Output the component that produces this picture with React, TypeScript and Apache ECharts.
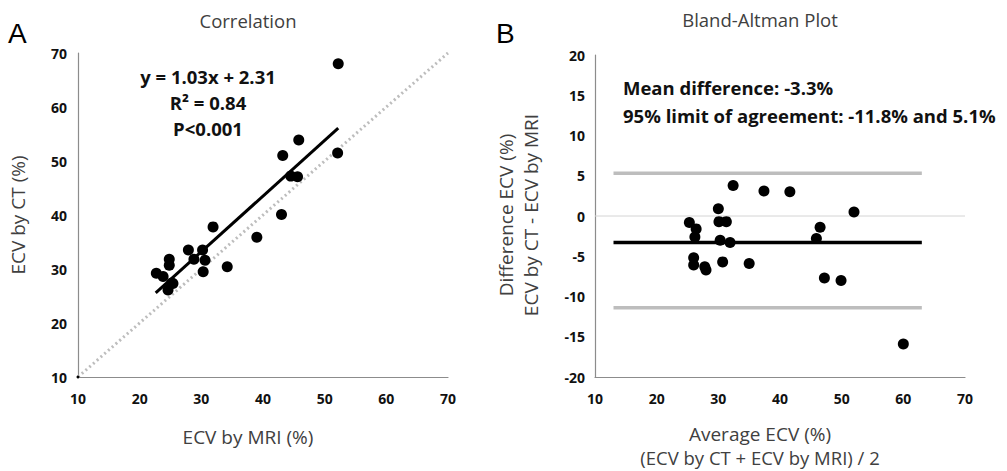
import React, { useEffect, useRef } from "react";
import * as echarts from "echarts";

// Correlation plot data (ECV by MRI, ECV by CT)
const corrMRI = [52.2, 52.1, 45.8, 43.2, 44.5, 45.6, 43.0, 39.0, 34.2, 31.9, 27.9, 30.2, 28.8, 30.6, 30.3, 24.8, 24.8, 22.7, 23.8, 25.2, 24.6, 25.4];
const corrCT = [68.0, 51.5, 53.9, 51.0, 47.2, 47.1, 40.1, 35.9, 30.4, 37.8, 33.5, 33.5, 31.8, 31.6, 29.5, 31.8, 30.7, 29.2, 28.6, 27.4, 26.1, 27.3];
const regSlope = 1.03;
const regIntercept = 2.31;
const regXRange = [22.6, 52.2];
const identityRange = [10, 70];

// Bland-Altman data (average, difference)
const baAvg = [32.4, 37.4, 41.6, 30.0, 52.0, 25.3, 26.4, 30.1, 31.3, 46.5, 26.2, 30.3, 31.9, 45.9, 26.0, 26.0, 27.8, 28.0, 30.7, 35.0, 47.2, 49.9, 60.0];
const baDiff = [3.8, 3.1, 3.0, 0.9, 0.5, -0.8, -1.6, -0.7, -0.7, -1.4, -2.6, -3.0, -3.3, -2.8, -5.2, -6.1, -6.3, -6.7, -5.7, -5.9, -7.7, -8.0, -15.9];
const meanDiff = -3.3;
const limits = [5.3, -11.4];
const refLineXRange = [13, 63];
const zeroLineXRange = [10, 70];

const corrXTicks = [10, 70, 10];
const corrYTicks = [10, 70, 10];
const baXTicks = [10, 70, 10];
const baYTicks = [-20, 20, 5];

const FONT = "'Open Sans', 'Noto Sans', sans-serif";

function axis(gridIndex: number, ticks: number[], margin: number) {
  return {
    type: "value",
    gridIndex,
    min: ticks[0],
    max: ticks[1],
    interval: ticks[2],
    axisLine: { show: true, onZero: false, lineStyle: { color: "#8c8c8c", width: 1.2 } },
    axisTick: { show: false },
    splitLine: { show: false },
    axisLabel: {
      color: "#111",
      fontWeight: "bold",
      fontSize: 14,
      fontFamily: FONT,
      margin,
    },
  };
}

const titleStyle = { fontSize: 18.5, fontFamily: FONT, fill: "#404040", align: "center", verticalAlign: "middle" };
const nameStyle = { fontSize: 19, fontFamily: FONT, fill: "#404040", align: "center", verticalAlign: "middle" };
const noteStyle = { fontSize: 18.5, fontWeight: "bold", fontFamily: FONT, fill: "#111", verticalAlign: "middle" };

export default function App() {
  const ref = useRef<HTMLDivElement>(null);
  useEffect(() => {
    const chart = echarts.init(ref.current!, null, { renderer: "svg" });
    const corrPts = corrMRI.map((x, i) => [x, corrCT[i]]);
    const baPts = baAvg.map((x, i) => [x, baDiff[i]]);
    const regLine = regXRange.map((x) => [x, regSlope * x + regIntercept]);
    const idLine = identityRange.map((v) => [v, v]);
    const option = {
      animation: false,
      backgroundColor: "#fff",
      grid: [
        { left: 78, top: 53, width: 370, height: 324 },
        { left: 595, top: 55, width: 370, height: 322 },
      ],
      xAxis: [axis(0, corrXTicks, 14), axis(1, baXTicks, 14)],
      yAxis: [axis(0, corrYTicks, 11), axis(1, baYTicks, 10)],
      series: [
        {
          type: "line",
          xAxisIndex: 0,
          yAxisIndex: 0,
          data: idLine,
          showSymbol: false,
          lineStyle: { color: "#bdbdbd", width: 3, type: [2, 3] },
          z: 1,
        },
        {
          type: "scatter",
          xAxisIndex: 0,
          yAxisIndex: 0,
          data: [idLine[0]],
          symbolSize: 3,
          itemStyle: { color: "#000", opacity: 1 },
          z: 2,
        },
        {
          type: "line",
          xAxisIndex: 0,
          yAxisIndex: 0,
          data: regLine,
          showSymbol: false,
          lineStyle: { color: "#000", width: 3 },
          z: 3,
        },
        {
          type: "scatter",
          xAxisIndex: 0,
          yAxisIndex: 0,
          data: corrPts,
          symbolSize: 11,
          itemStyle: { color: "#000", opacity: 1 },
          z: 4,
        },
        {
          type: "line",
          xAxisIndex: 1,
          yAxisIndex: 1,
          data: zeroLineXRange.map((x) => [x, 0]),
          showSymbol: false,
          lineStyle: { color: "#d4d4d4", width: 1 },
          z: 1,
        },
        ...limits.map((l) => ({
          type: "line",
          xAxisIndex: 1,
          yAxisIndex: 1,
          data: refLineXRange.map((x) => [x, l]),
          showSymbol: false,
          lineStyle: { color: "#bdbdbd", width: 3.5 },
          z: 2,
        })),
        {
          type: "line",
          xAxisIndex: 1,
          yAxisIndex: 1,
          data: refLineXRange.map((x) => [x, meanDiff]),
          showSymbol: false,
          lineStyle: { color: "#000", width: 3.5 },
          z: 3,
        },
        {
          type: "scatter",
          xAxisIndex: 1,
          yAxisIndex: 1,
          data: baPts,
          symbolSize: 11,
          itemStyle: { color: "#000", opacity: 1 },
          z: 4,
        },
      ],
      graphic: [
        { type: "text", left: 8, top: 19, style: { text: "A", fontSize: 28, fontFamily: "'Liberation Sans', Arial, sans-serif", fill: "#000" } },
        { type: "text", left: 496, top: 19, style: { text: "B", fontSize: 28, fontFamily: "'Liberation Sans', Arial, sans-serif", fill: "#000" } },
        { type: "text", x: 248, y: 20, style: { ...titleStyle, text: "Correlation" } },
        { type: "text", x: 760, y: 19, style: { ...titleStyle, text: "Bland-Altman Plot" } },
        { type: "text", x: 248, y: 437, style: { ...nameStyle, text: "ECV by MRI (%)" } },
        { type: "text", x: 760, y: 434, style: { ...nameStyle, text: "Average ECV (%)" } },
        { type: "text", x: 760, y: 457, style: { ...nameStyle, fontSize: 18.5, text: "(ECV by CT + ECV by MRI) / 2" } },
        { type: "text", x: 18, y: 215, rotation: Math.PI / 2, style: { ...nameStyle, text: "ECV by CT (%)" } },
        { type: "text", x: 506, y: 215, rotation: Math.PI / 2, style: { ...nameStyle, text: "Difference ECV (%)" } },
        { type: "text", x: 531, y: 215, rotation: Math.PI / 2, style: { ...nameStyle, text: "ECV by CT - ECV by MRI" } },
        { type: "text", x: 208, y: 76, style: { ...noteStyle, align: "center", text: "y = 1.03x + 2.31" } },
        { type: "text", x: 208, y: 102, style: { ...noteStyle, align: "center", text: "R\u00B2 = 0.84" } },
        { type: "text", x: 208, y: 128, style: { ...noteStyle, align: "center", text: "P<0.001" } },
        { type: "text", x: 623, y: 87, style: { ...noteStyle, align: "left", text: "Mean difference: -3.3%" } },
        { type: "text", x: 623, y: 115, style: { ...noteStyle, align: "left", text: "95% limit of agreement: -11.8% and 5.1%" } },
      ],
    };
    chart.setOption(option as any);
    return () => chart.dispose();
  }, []);
  return <div ref={ref} style={{ position: "absolute", left: 0, top: 0, width: 1007, height: 471 }} />;
}
